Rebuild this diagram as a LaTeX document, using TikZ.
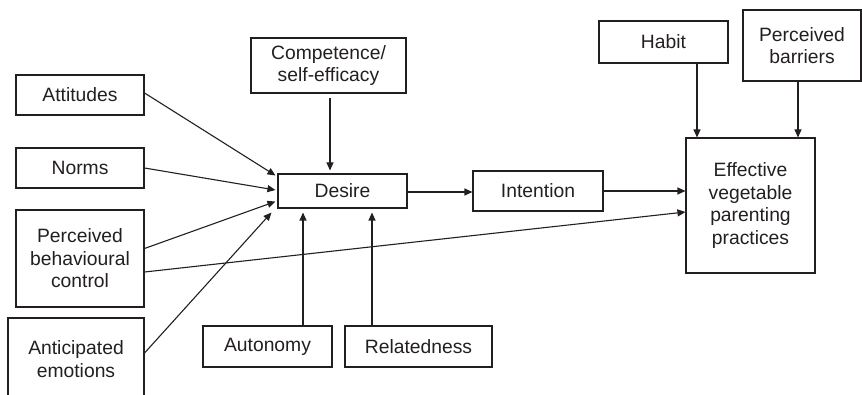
\documentclass[tikz,border=0pt]{standalone}
\usepackage{fontspec}
\setmainfont{Liberation Sans}
\usetikzlibrary{arrows.meta,calc}
\definecolor{ink}{HTML}{231F20}
\begin{document}
\begin{tikzpicture}[x=1pt,y=-1pt,
  box/.style={draw=ink,line width=1.1pt,rectangle,inner sep=0pt,align=center,text=ink,
    font=\fontsize{19.3}{22.5}\selectfont},
  arr/.style={draw=ink,line width=1.1pt,-{Triangle[length=8pt,width=7pt]}}]
\useasboundingbox (0,0) rectangle (862,395);
\node[box,minimum width=128,minimum height=40] (att) at (80,95) {Attitudes};
\node[box,minimum width=128,minimum height=40] (norms) at (80,168) {Norms};
\node[box,minimum width=128,minimum height=97] (pbc) at (80,258.5) {Perceived\\behavioural\\control};
\node[box,minimum width=136,minimum height=82] (ant) at (76,359) {Anticipated\\emotions};
\node[box,minimum width=155,minimum height=55] (comp) at (328.5,65.5) {Competence/\\self-efficacy};
\node[box,minimum width=129,minimum height=34] (desire) at (342.5,191) {Desire};
\node[box,minimum width=130,minimum height=40] (int) at (538,191) {Intention};
\node[box,minimum width=129,minimum height=41] (aut) at (267.5,346.5) {Autonomy};
\node[box,minimum width=147,minimum height=41] (rel) at (418.5,346.5) {Relatedness};
\node[box,minimum width=129,minimum height=42] (habit) at (663.5,42) {Habit};
\node[box,minimum width=118,minimum height=71] (bar) at (802,45.5) {Perceived\\barriers};
\node[box,minimum width=129,minimum height=135] (eff) at (750.5,205.5) {Effective\\vegetable\\parenting\\practices};
% start points of vertical arrows
\coordinate (c1) at ($(comp.south)+(1.5,0)$);
\coordinate (a1) at ($(aut.north)+(35.5,0)$);
\coordinate (r1) at ($(rel.north)+(-46.5,0)$);
\coordinate (h1) at ($(habit.south)+(33.5,0)$);
\coordinate (b1) at ($(bar.south)+(-4,0)$);
% arrows into Desire
\draw[arr] ($(att.east)+(0,-2)$) -- ($(desire.north west)+(-2,2)$);
\draw[arr] (norms.east) -- ($(desire.west)+(-2,-1)$);
\draw[arr] ($(pbc.east)+(0,-10)$) -- ($(desire.south west)+(-2,-7)$);
\draw[arr] ($(ant.east)+(0,-6)$) -- ($(desire.south west)+(-6,4)$);
\draw[arr,shorten <=4pt,shorten >=3pt] (c1) -- (c1 |- desire.north);
\draw[arr,shorten >=4pt] (a1) -- (a1 |- desire.south);
\draw[arr,shorten >=4pt] (r1) -- (r1 |- desire.south);
% main chain
\draw[arr] ($(desire.east)+(0,1)$) -- ($(int.west)+(0,1)$);
\draw[arr] (int.east) -- (int.east -| eff.west);
\draw[arr] ($(pbc.east)+(0,13.5)$) -- ($(eff.west)+(0,6.5)$);
% into Effective
\draw[arr] (h1) -- (h1 |- eff.north);
\draw[arr] (b1) -- (b1 |- eff.north);
\end{tikzpicture}
\end{document}
